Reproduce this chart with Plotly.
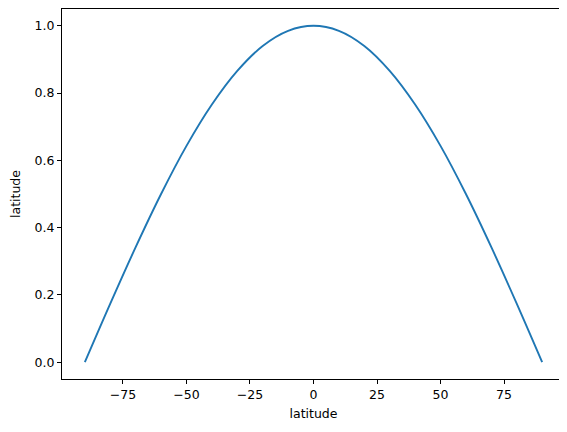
import plotly.graph_objects as go

# latitude (degrees) and the curve values
lat = [-90, -80, -70, -60, -50, -40, -30, -20, -10, 0,
       10, 20, 30, 40, 50, 60, 70, 80, 90]
val = [0.0, 0.174, 0.342, 0.5, 0.643, 0.766, 0.866, 0.94, 0.985, 1.0,
       0.985, 0.94, 0.866, 0.766, 0.643, 0.5, 0.342, 0.174, 0.0]

x_ticks = [-75, -50, -25, 0, 25, 50, 75]
y_ticks = [0.0, 0.2, 0.4, 0.6, 0.8, 1.0]

fig = go.Figure()
fig.add_trace(
    go.Scatter(
        x=lat,
        y=val,
        mode="lines",
        line=dict(color="#1f77b4", width=1.9, shape="spline"),
        showlegend=False,
    )
)

axis_style = dict(
    showline=True,
    linecolor="black",
    linewidth=1,
    mirror=True,
    ticks="outside",
    ticklen=4,
    tickcolor="black",
    showgrid=False,
    zeroline=False,
    automargin=False,
    tickfont=dict(size=12.5, color="black"),
)

fig.update_xaxes(
    range=[-99, 99],
    tickvals=x_ticks,
    ticktext=[str(t).replace("-", "\u2212") for t in x_ticks],
    title=dict(text="latitude", font=dict(size=12.5, color="black"), standoff=8),
    **axis_style,
)
fig.update_yaxes(
    range=[-0.05, 1.05],
    tickvals=y_ticks,
    ticktext=[f"{t:.1f}" for t in y_ticks],
    title=dict(text="latitude", font=dict(size=12.5, color="black"), standoff=16),
    **axis_style,
)

# page body adds an 8px offset, margins compensate for it
fig.update_layout(
    width=567,
    height=432,
    margin=dict(l=54, r=10, t=1, b=61),
    plot_bgcolor="white",
    paper_bgcolor="white",
    font=dict(family="DejaVu Sans", size=12.5, color="black"),
)

fig.write_html("out.html")
